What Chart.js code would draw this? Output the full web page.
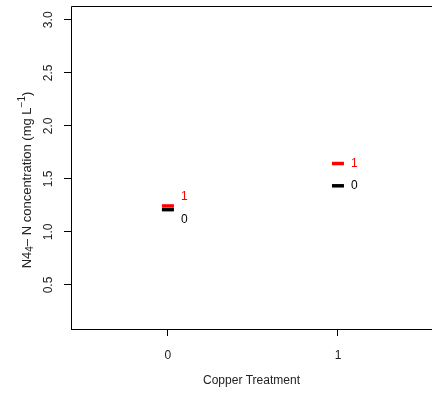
<!DOCTYPE html>
<html>
<head>
<meta charset="utf-8">
<script src="https://cdn.jsdelivr.net/npm/chart.js@4"></script>
<style>
  html, body { margin: 0; padding: 0; background: #fff; }
  #wrap { width: 432px; height: 393px; position: relative; }
</style>
</head>
<body>
<div id="wrap"><canvas id="chart"></canvas></div>
<script>
// copper treatment levels on the x axis
const copperLevels = [0, 1];
// series = second factor level, drawn as short bars with a text label
const seriesNames = ['1', '0'];
const seriesColors = ['#ff0000', '#000000'];
const concSeries1 = [1.245, 1.645];
const concSeries0 = [1.21, 1.435];
const yTicks = [0.5, 1.0, 1.5, 2.0, 2.5, 3.0];
const xTicks = [0, 1];

const FONT = '"Liberation Sans", Arial, sans-serif';

// labels to the right of each mark, pushed apart when they collide
const labelPlugin = {
  id: 'labels',
  afterDatasetsDraw(chart) {
    const ctx = chart.ctx;
    ctx.save();
    ctx.font = '12px ' + FONT;
    ctx.textBaseline = 'middle';
    ctx.textAlign = 'left';
    copperLevels.forEach((lvl, i) => {
      const pts = chart.data.datasets.map((ds, d) => {
        const el = chart.getDatasetMeta(d).data[i];
        return { x: el.x, y: el.y, d };
      });
      const ys = pts.map(p => p.y);
      const gap = Math.abs(ys[0] - ys[1]);
      if (gap < 22) {
        const mid = (ys[0] + ys[1]) / 2;
        const up = ys[0] < ys[1] ? 0 : 1;
        ys[up] = mid - 11.5;
        ys[1 - up] = mid + 11.5;
      }
      pts.forEach((p, k) => {
        ctx.fillStyle = seriesColors[p.d];
        ctx.fillText(seriesNames[p.d], p.x + 13, ys[k]);
      });
    });
    ctx.restore();
  }
};

// R style frame, rotated y tick labels and axis titles
const framePlugin = {
  id: 'frame',
  afterDraw(chart) {
    const ctx = chart.ctx;
    const a = chart.chartArea;
    const ys = chart.scales.y;
    ctx.save();
    ctx.strokeStyle = '#000';
    ctx.lineWidth = 1;
    ctx.beginPath();
    ctx.moveTo(a.left + 0.5, a.bottom + 0.5);
    ctx.lineTo(a.left + 0.5, a.top + 0.5);
    ctx.lineTo(a.right, a.top + 0.5);
    ctx.stroke();

    ctx.fillStyle = '#222';
    ctx.font = '12px ' + FONT;
    ctx.textAlign = 'center';
    ctx.textBaseline = 'middle';
    yTicks.forEach(v => {
      const py = ys.getPixelForValue(v);
      ctx.save();
      ctx.translate(49, py);
      ctx.rotate(-Math.PI / 2);
      ctx.fillText(v.toFixed(1), 0, 0);
      ctx.restore();
    });

    // y title with sub/superscripts
    const parts = [
      { t: 'N4', s: 13, dy: 0 },
      { t: '4', s: 10, dy: 3 },
      { t: '\u2013 N concentration (mg L', s: 13, dy: 0 },
      { t: '\u22121', s: 10, dy: -5 },
      { t: ')', s: 13, dy: 0 }
    ];
    let total = 0;
    parts.forEach(p => { ctx.font = p.s + 'px ' + FONT; p.w = ctx.measureText(p.t).width; total += p.w; });
    ctx.save();
    ctx.translate(27, 180);
    ctx.rotate(-Math.PI / 2);
    ctx.textAlign = 'left';
    let x = -total / 2;
    parts.forEach(p => {
      ctx.font = p.s + 'px ' + FONT;
      ctx.fillText(p.t, x, p.dy);
      x += p.w;
    });
    ctx.restore();

    ctx.font = '12px ' + FONT;
    ctx.textAlign = 'center';
    ctx.fillText('Copper Treatment', (a.left + a.right) / 2, 381);
    ctx.restore();
  }
};

const datasets = [concSeries1, concSeries0].map((vals, d) => ({
  label: seriesNames[d],
  data: copperLevels.map((c, i) => ({ x: c, y: vals[i] })),
  pointStyle: 'line',
  pointRadius: 6,
  pointHoverRadius: 6,
  borderWidth: 3.5,
  pointBorderWidth: 3.5,
  borderColor: seriesColors[d],
  backgroundColor: seriesColors[d],
  showLine: false
}));

new Chart(document.getElementById('chart'), {
  type: 'scatter',
  data: { datasets },
  options: {
    responsive: true,
    maintainAspectRatio: false,
    animation: false,
    layout: { autoPadding: false, padding: { top: 6, right: 0, left: 0, bottom: 0 } },
    plugins: { legend: { display: false }, tooltip: { enabled: false } },
    scales: {
      x: {
        type: 'linear',
        min: -0.57,
        max: 1.553,
        afterBuildTicks: s => { s.ticks = xTicks.map(v => ({ value: v })); },
        afterFit: s => { s.height = 64; s.paddingLeft = 0; s.paddingRight = 0; },
        grid: { drawOnChartArea: false, drawTicks: true, tickLength: 7, color: '#000' },
        border: { display: true, color: '#000', width: 1 },
        ticks: { color: '#222', font: { family: FONT, size: 12 }, padding: 12, maxRotation: 0, callback: v => String(v) }
      },
      y: {
        type: 'linear',
        min: 0.085,
        max: 3.13,
        afterBuildTicks: s => { s.ticks = yTicks.map(v => ({ value: v })); },
        afterFit: s => { s.width = 71; s.paddingTop = 0; s.paddingBottom = 0; },
        grid: { drawOnChartArea: false, drawTicks: true, tickLength: 7, color: '#000' },
        border: { display: false },
        ticks: { display: false }
      }
    }
  },
  plugins: [labelPlugin, framePlugin]
});
</script>
</body>
</html>
